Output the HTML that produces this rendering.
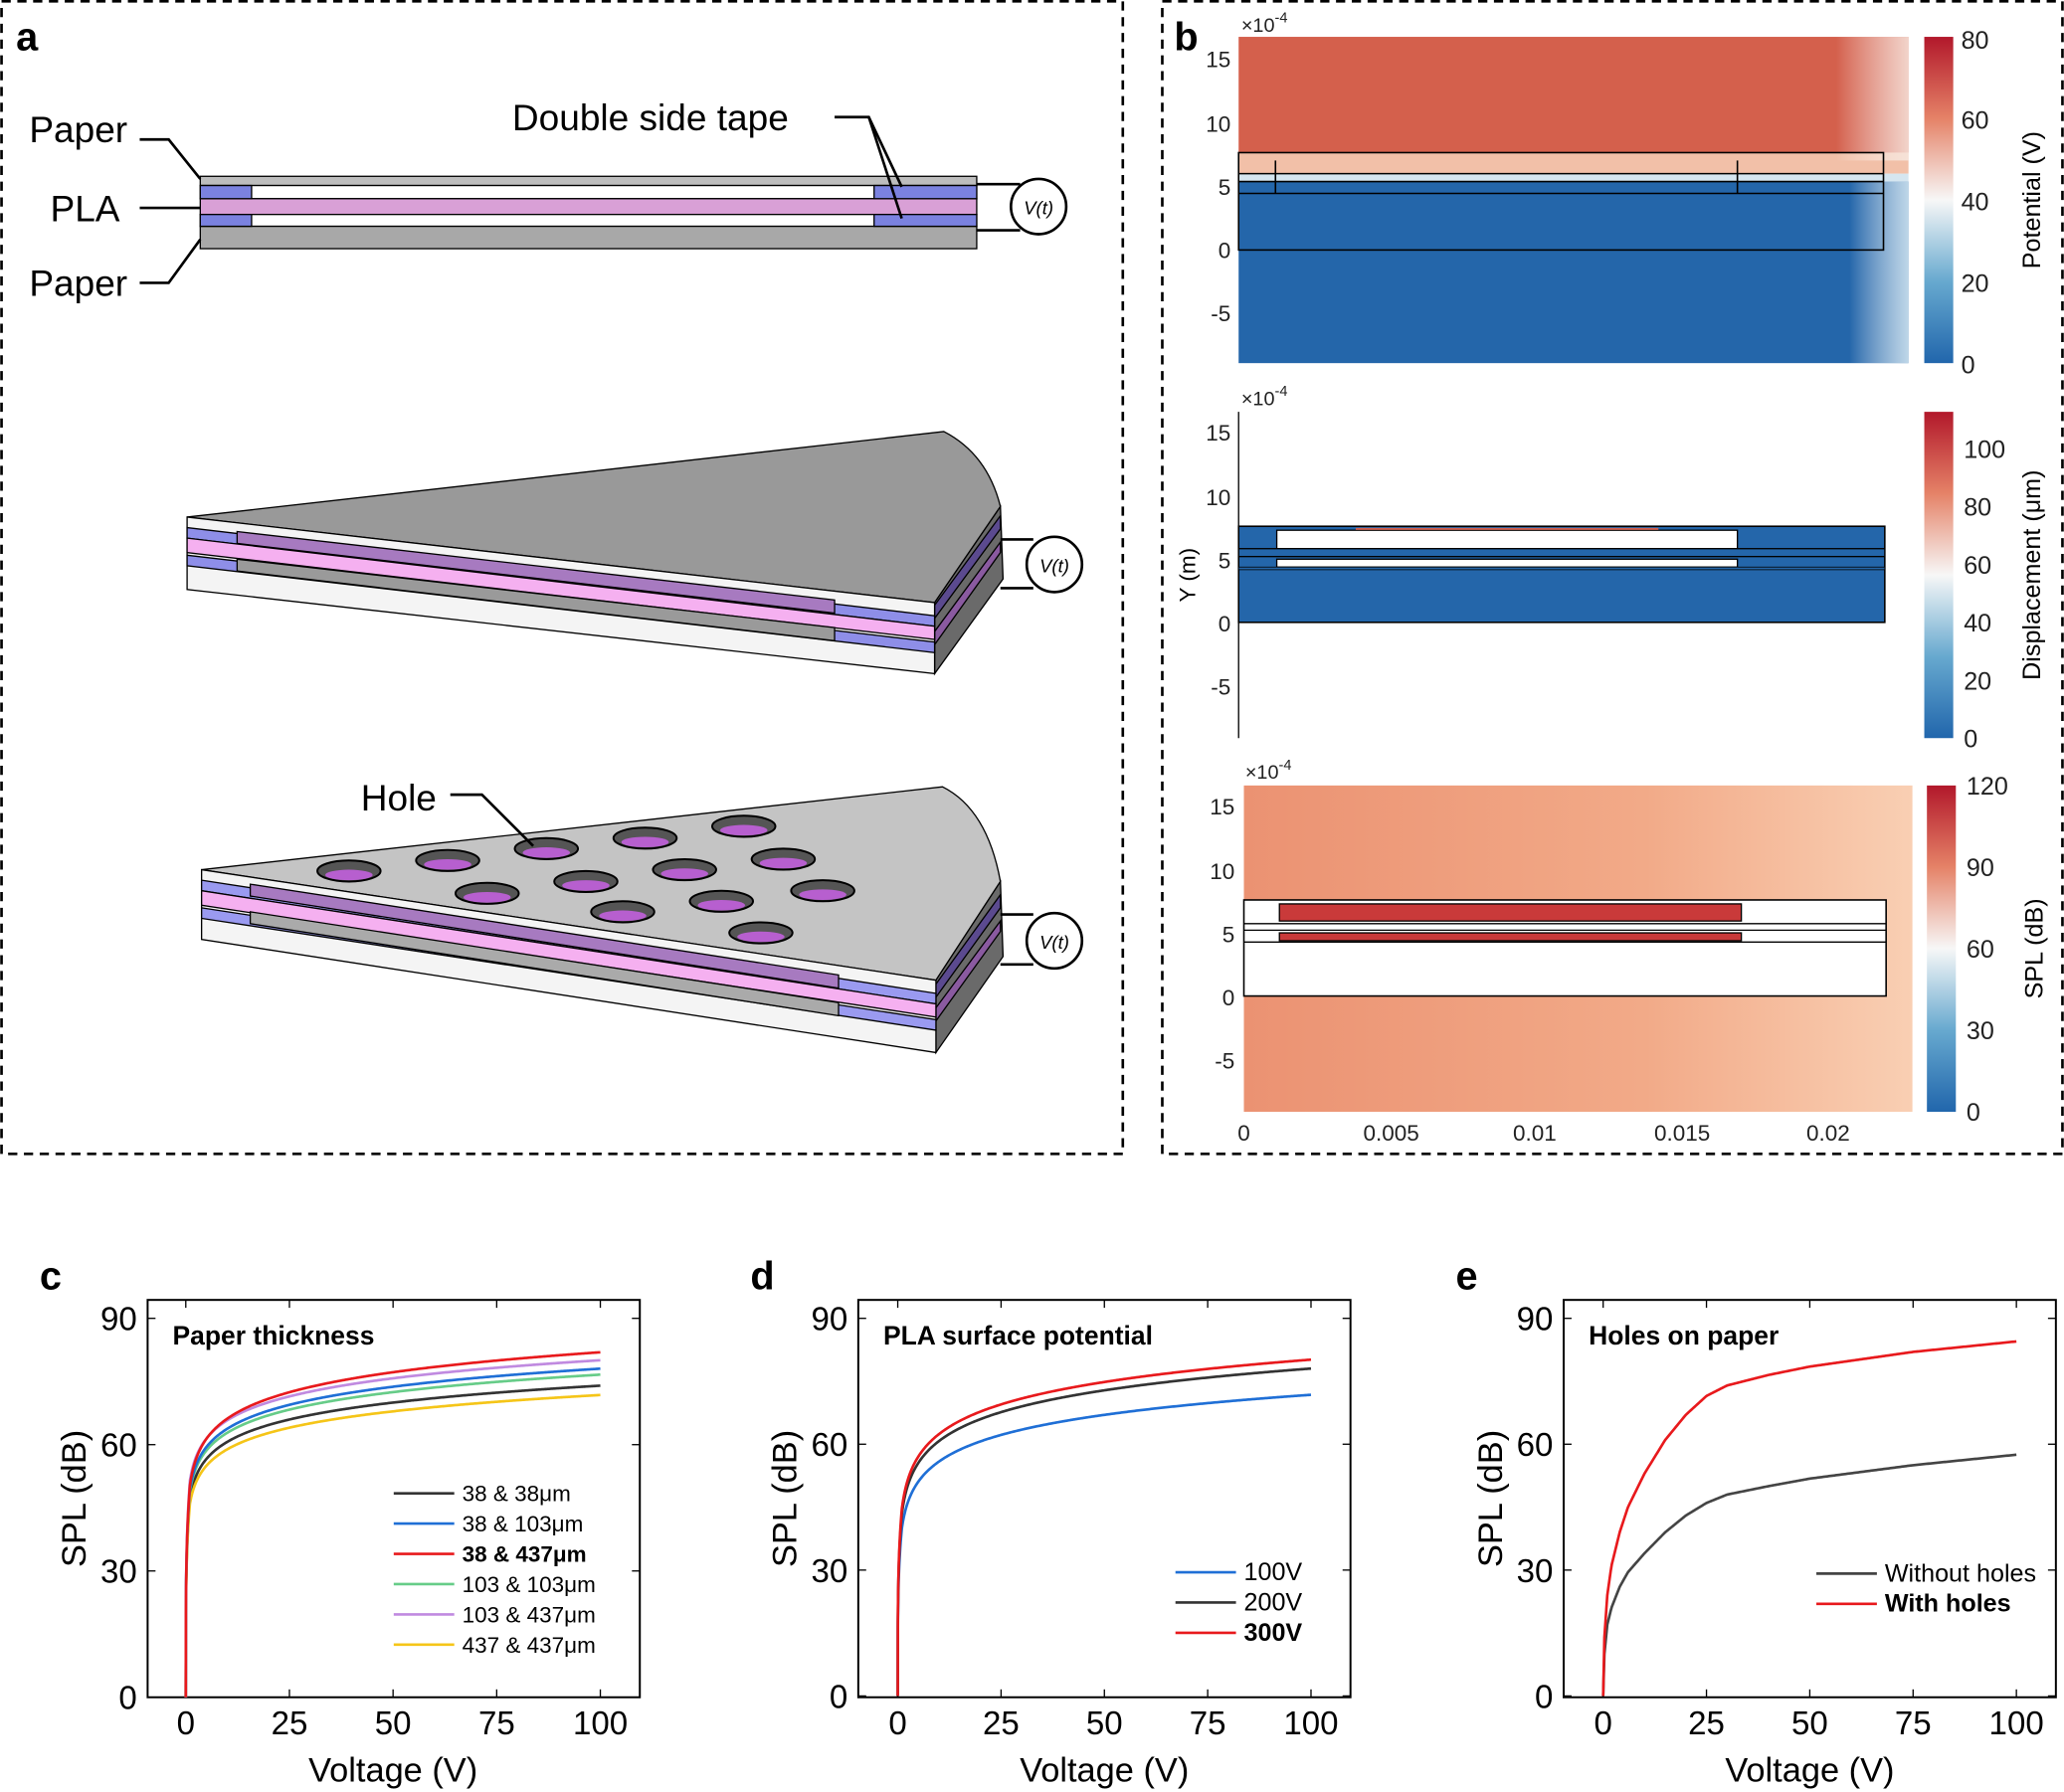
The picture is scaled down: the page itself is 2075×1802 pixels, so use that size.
<!DOCTYPE html>
<html><head><meta charset="utf-8"><style>
html,body{margin:0;padding:0;background:#fff}
svg{display:block}
text{font-family:"Liberation Sans",Arial,sans-serif}
</style></head><body>
<svg id="s" width="2075" height="1802" viewBox="0 0 1568 1362" xmlns="http://www.w3.org/2000/svg">
<defs>
<linearGradient id="cb1" x1="0" y1="0" x2="0" y2="1">
<stop offset="0" stop-color="#b2182b"/><stop offset="0.25" stop-color="#e58267"/><stop offset="0.5" stop-color="#f7f7f7"/><stop offset="0.75" stop-color="#67a9cf"/><stop offset="1" stop-color="#2166ac"/></linearGradient>
<linearGradient id="fadeR" x1="0" y1="0" x2="1" y2="0">
<stop offset="0" stop-color="#ffffff" stop-opacity="0"/><stop offset="1" stop-color="#f7e8e0" stop-opacity="0.85"/></linearGradient>
<linearGradient id="fadeB" x1="0" y1="0" x2="1" y2="0">
<stop offset="0" stop-color="#ffffff" stop-opacity="0"/><stop offset="1" stop-color="#cfe3ef" stop-opacity="0.9"/></linearGradient>
<linearGradient id="spl" x1="0" y1="0" x2="1" y2="0">
<stop offset="0" stop-color="#eb9272"/><stop offset="0.6" stop-color="#f2aa88"/><stop offset="1" stop-color="#f9cfb3"/></linearGradient>
</defs>
<rect width="1568" height="1362" fill="#fff"/>
<!-- panel borders -->
<rect x="1" y="1" width="852" height="876" fill="none" stroke="#000" stroke-width="2" stroke-dasharray="7,5"/>
<rect x="883" y="1" width="684" height="876" fill="none" stroke="#000" stroke-width="2" stroke-dasharray="7,5"/>
<text x="12" y="38" font-size="30" font-weight="bold">a</text>
<text x="892" y="38" font-size="30" font-weight="bold">b</text>

<!-- a: cross-section -->
<g stroke="#000" stroke-width="1">
<rect x="152" y="134" width="590" height="7" fill="#bdbdbd"/>
<rect x="152" y="141" width="590" height="10" fill="#fff"/>
<rect x="152" y="151" width="590" height="12" fill="#d9a0d6"/>
<rect x="152" y="163" width="590" height="9" fill="#fff"/>
<rect x="152" y="172" width="590" height="17" fill="#a8a8a8"/>
<rect x="152" y="141" width="39" height="10" fill="#7b82e0"/>
<rect x="152" y="163" width="39" height="9" fill="#7b82e0"/>
<rect x="664" y="141" width="78" height="10" fill="#7b82e0"/>
<rect x="664" y="163" width="78" height="9" fill="#7b82e0"/>
</g>
<g fill="none" stroke="#000" stroke-width="2">
<polyline points="106,106 128,106 152,136"/>
<line x1="106" y1="158" x2="152" y2="158"/>
<polyline points="106,215 128,215 152,182"/>
<polyline points="634,89 660,89 685,142"/>
<line x1="660" y1="89" x2="685" y2="166"/>
<polyline points="742,140 775,140"/><polyline points="742,175 775,175"/>
</g>
<circle cx="789" cy="157" r="21" fill="#fff" stroke="#000" stroke-width="2"/>
<text x="789" y="163" font-size="14" font-style="italic" text-anchor="middle" font-family="Liberation Serif">V(t)</text>
<text x="22" y="108" font-size="28">Paper</text>
<text x="38" y="168" font-size="28">PLA</text>
<text x="22" y="225" font-size="28">Paper</text>
<text x="389" y="99" font-size="28">Double side tape</text>

<!-- a: wedge 1 -->
<g stroke="#000" stroke-width="1">
<path d="M142,393 L717,328 Q750,345 760,385 L710,458 Z" fill="#999"/>
<path d="M710,458 L760,385 L762,440 L710,512 Z" fill="#6a6a6a"/>
<path d="M710,460 L760,392 L760,402 L710,470 Z" fill="#5b4a8f"/>
<path d="M710,480 L760,412 L760,420 L710,490 Z" fill="#8a5aa0"/>
<path d="M142,393 L710,458 L710,512 L142,448 Z" fill="#f4f4f4"/>
<path d="M142,401 L710,468 L710,476 L142,409 Z" fill="#8e8ee8"/>
<path d="M142,409 L710,476 L710,486 L142,420 Z" fill="#f5b0f0"/>
<path d="M142,422 L710,488 L710,496 L142,430 Z" fill="#8e8ee8"/>
<path d="M180,404 L634,456 L634,466 L180,413 Z" fill="#a77ac0"/>
<path d="M180,425 L634,477 L634,487 L180,434 Z" fill="#9a9a9a"/>
</g>
<g fill="none" stroke="#000" stroke-width="2">
<polyline points="760,410 785,410"/><polyline points="760,447 785,447"/></g>
<circle cx="801" cy="429" r="21" fill="#fff" stroke="#000" stroke-width="2"/>
<text x="801" y="435" font-size="14" font-style="italic" text-anchor="middle" font-family="Liberation Serif">V(t)</text>

<!-- a: wedge 2 with holes -->
<g stroke="#000" stroke-width="1">
<path d="M153,661 L716,598 Q750,615 760,670 L711,745 Z" fill="#c4c4c4"/>
<path d="M711,745 L760,670 L762,727 L711,800 Z" fill="#6a6a6a"/>
<path d="M711,748 L760,680 L760,690 L711,758 Z" fill="#5b4a8f"/>
<path d="M711,766 L760,700 L760,708 L711,776 Z" fill="#8a5aa0"/>
<path d="M153,661 L711,745 L711,800 L153,714 Z" fill="#f4f4f4"/>
<path d="M153,669 L711,755 L711,763 L153,677 Z" fill="#9a9af0"/>
<path d="M153,677 L711,763 L711,773 L153,688 Z" fill="#f5b0f0"/>
<path d="M153,690 L711,775 L711,783 L153,698 Z" fill="#9a9af0"/>
<path d="M190,672 L637,741 L637,751 L190,681 Z" fill="#a77ac0"/>
<path d="M190,693 L637,762 L637,772 L190,702 Z" fill="#aaa"/>
</g>
<g stroke="#000" stroke-width="1.5" fill="#555">
<ellipse cx="265" cy="662" rx="24" ry="8"/><ellipse cx="340" cy="654" rx="24" ry="8"/><ellipse cx="415" cy="645" rx="24" ry="8"/><ellipse cx="490" cy="637" rx="24" ry="8"/><ellipse cx="565" cy="628" rx="24" ry="8"/>
<ellipse cx="370" cy="679" rx="24" ry="8"/><ellipse cx="445" cy="670" rx="24" ry="8"/><ellipse cx="520" cy="661" rx="24" ry="8"/><ellipse cx="595" cy="653" rx="24" ry="8"/>
<ellipse cx="473" cy="693" rx="24" ry="8"/><ellipse cx="548" cy="685" rx="24" ry="8"/><ellipse cx="625" cy="677" rx="24" ry="8"/><ellipse cx="578" cy="709" rx="24" ry="8"/>
</g>
<g fill="#b75fcf">
<ellipse cx="265" cy="665" rx="18" ry="4"/><ellipse cx="340" cy="657" rx="18" ry="4"/><ellipse cx="415" cy="648" rx="18" ry="4"/><ellipse cx="490" cy="640" rx="18" ry="4"/><ellipse cx="565" cy="631" rx="18" ry="4"/>
<ellipse cx="370" cy="682" rx="18" ry="4"/><ellipse cx="445" cy="673" rx="18" ry="4"/><ellipse cx="520" cy="664" rx="18" ry="4"/><ellipse cx="595" cy="656" rx="18" ry="4"/>
<ellipse cx="473" cy="696" rx="18" ry="4"/><ellipse cx="548" cy="688" rx="18" ry="4"/><ellipse cx="625" cy="680" rx="18" ry="4"/><ellipse cx="578" cy="712" rx="18" ry="4"/>
</g>
<g fill="none" stroke="#000" stroke-width="2">
<polyline points="342,604 366,604 405,643"/>
<polyline points="760,695 785,695"/><polyline points="760,733 785,733"/></g>
<text x="274" y="616" font-size="28">Hole</text>
<circle cx="801" cy="715" r="21" fill="#fff" stroke="#000" stroke-width="2"/>
<text x="801" y="721" font-size="14" font-style="italic" text-anchor="middle" font-family="Liberation Serif">V(t)</text>

<!-- b1 -->
<rect x="941" y="28" width="509" height="88" fill="#d4604c"/>
<rect x="941" y="116" width="509" height="16" fill="#f2c0a8"/>
<rect x="941" y="132" width="509" height="6" fill="#d6e6f0"/>
<rect x="941" y="138" width="509" height="138" fill="#2466aa"/>
<rect x="1395" y="28" width="55" height="94" fill="url(#fadeR)"/>
<rect x="1405" y="138" width="45" height="138" fill="url(#fadeB)"/>
<g fill="none" stroke="#000" stroke-width="1.2">
<rect x="941" y="116" width="490" height="74"/>
<line x1="941" y1="132" x2="1431" y2="132"/><line x1="941" y1="138" x2="1431" y2="138"/><line x1="941" y1="147" x2="1431" y2="147"/>
<line x1="969" y1="122" x2="969" y2="147"/><line x1="1320" y1="122" x2="1320" y2="147"/>
</g>
<rect x="1462" y="28" width="22" height="248" fill="url(#cb1)"/>
<!-- b2 -->
<line x1="941" y1="313" x2="941" y2="561" stroke="#000" stroke-width="1"/>
<rect x="941" y="400" width="491" height="73" fill="#2466aa" stroke="#000" stroke-width="1.2"/>
<rect x="970" y="403" width="350" height="14" fill="#fff" stroke="#000"/>
<rect x="941" y="417" width="491" height="6" fill="#2466aa" stroke="#000"/>
<rect x="970" y="425" width="350" height="6" fill="#fff" stroke="#000"/>
<rect x="941" y="431" width="491" height="2" fill="#2466aa" stroke="#000" stroke-width="0.6"/>
<line x1="1030" y1="402" x2="1260" y2="402" stroke="#d06050" stroke-width="1.5"/>
<rect x="1462" y="313" width="22" height="248" fill="url(#cb1)"/>
<!-- b3 -->
<rect x="945" y="597" width="508" height="248" fill="url(#spl)"/>
<rect x="945" y="684" width="488" height="73" fill="#fff" stroke="#000" stroke-width="1.2"/>
<rect x="972" y="687" width="351" height="13" fill="#c93a3a" stroke="#000"/>
<line x1="945" y1="702" x2="1433" y2="702" stroke="#000"/><line x1="945" y1="707" x2="1433" y2="707" stroke="#000"/>
<rect x="972" y="709" width="351" height="6" fill="#c93a3a" stroke="#000"/>
<line x1="945" y1="716" x2="1433" y2="716" stroke="#000"/>
<rect x="1464" y="597" width="22" height="248" fill="url(#cb1)"/>
<g font-size="17" text-anchor="end" fill="#222">
<text x="935" y="51">15</text><text x="935" y="100">10</text><text x="935" y="148">5</text><text x="935" y="196">0</text><text x="935" y="244">-5</text>
<text x="935" y="335">15</text><text x="935" y="384">10</text><text x="935" y="432">5</text><text x="935" y="480">0</text><text x="935" y="528">-5</text>
<text x="938" y="619">15</text><text x="938" y="668">10</text><text x="938" y="716">5</text><text x="938" y="764">0</text><text x="938" y="812">-5</text>
</g>
<g font-size="15" fill="#222"><text x="943" y="24">×10<tspan dy="-7" font-size="11">-4</tspan></text>
<text x="943" y="308">×10<tspan dy="-7" font-size="11">-4</tspan></text>
<text x="946" y="592">×10<tspan dy="-7" font-size="11">-4</tspan></text></g>
<g font-size="17" text-anchor="middle" fill="#222"><text x="945" y="867">0</text><text x="1057" y="867">0.005</text><text x="1166" y="867">0.01</text><text x="1278" y="867">0.015</text><text x="1389" y="867">0.02</text></g>
<text transform="translate(908,437) rotate(-90)" font-size="17" text-anchor="middle">Y (m)</text>
<g font-size="19" fill="#222">
<text x="1490" y="37">80</text><text x="1490" y="98">60</text><text x="1490" y="160">40</text><text x="1490" y="222">20</text><text x="1490" y="284">0</text>
<text x="1492" y="348">100</text><text x="1492" y="392">80</text><text x="1492" y="436">60</text><text x="1492" y="480">40</text><text x="1492" y="524">20</text><text x="1492" y="568">0</text>
<text x="1494" y="604">120</text><text x="1494" y="666">90</text><text x="1494" y="728">60</text><text x="1494" y="790">30</text><text x="1494" y="852">0</text>
</g>
<g font-size="19" text-anchor="middle">
<text transform="translate(1550,152) rotate(-90)">Potential (V)</text>
<text transform="translate(1550,437) rotate(-90)">Displacement (μm)</text>
<text transform="translate(1552,721) rotate(-90)">SPL (dB)</text></g>

<!-- charts -->
<g id="charts"></g>
</svg>
<script>
var NS="http://www.w3.org/2000/svg",G=document.getElementById("charts");
function el(t,a,txt){var e=document.createElementNS(NS,t);for(var k in a)e.setAttribute(k,a[k]);if(txt!==undefined)e.textContent=txt;G.appendChild(e);return e;}
function chart(bx,x0,x1,y0,y90,letter,title){
 el("rect",{x:bx,y:988,width:374,height:302,fill:"none",stroke:"#000","stroke-width":1.5});
 el("text",{x:bx-82,y:980,"font-size":30,"font-weight":"bold"},letter);
 el("text",{x:bx+19,y:1022,"font-size":20,"font-weight":"bold"},title);
 [0,25,50,75,100].forEach(function(v){var x=x0+(x1-x0)*v/100;
  el("line",{x1:x,y1:1290,x2:x,y2:1284,stroke:"#000"});el("line",{x1:x,y1:988,x2:x,y2:994,stroke:"#000"});
  el("text",{x:x,y:1318,"font-size":25,"text-anchor":"middle"},v);});
 [0,30,60,90].forEach(function(v){var y=y0+(y90-y0)*v/90;
  el("line",{x1:bx,y1:y,x2:bx+6,y2:y,stroke:"#000"});el("line",{x1:bx+374,y1:y,x2:bx+368,y2:y,stroke:"#000"});
  el("text",{x:bx-8,y:y+9,"font-size":25,"text-anchor":"end"},v);});
 el("text",{x:(x0+x1)/2,y:1354,"font-size":26,"text-anchor":"middle"},"Voltage (V)");
 el("text",{transform:"translate("+(bx-47)+",1139) rotate(-90)","font-size":26,"text-anchor":"middle"},"SPL (dB)");
 return function(f,col){var d="";for(var i=0;i<=400;i++){var v=i<40?i*0.025:(i-39)*100/361;if(i>=40)v=1+(i-40)*99/360;var s=f(v);
  var x=x0+(x1-x0)*v/100,y=y0+(y90-y0)*s/90;d+=(i?"L":"M")+x.toFixed(2)+","+y.toFixed(2);}
  el("path",{d:d,fill:"none",stroke:col,"stroke-width":2});};
}
function lg(A,B){return function(v){var r=A+B*Math.log(Math.max(v,1e-3));if(v<1){var t=A+B*Math.log(1)-0;var base=Math.pow(v,0.25)*A;return Math.min(base,A)+0;}return r;};}
var c=chart(112,141,456,1290,1002,"c","Paper thickness");
c(lg(47.3,5.8),"#333");c(lg(49.0,6.0),"#66cc88");c(lg(46.0,5.6),"#f5c518");c(lg(49.5,6.2),"#1f6fd6");c(lg(51.5,6.2),"#c08ae0");c(lg(50.4,6.85),"#e8191c");
var d=chart(652,682,996,1289,1002,"d","PLA surface potential");
d(lg(40,6.9),"#1f6fd6");d(lg(43.5,7.5),"#333");d(lg(44.7,7.7),"#e8191c");
var e=chart(1188,1218,1532,1289,1002,"e","Holes on paper");
function pw(pts){return function(v){for(var i=1;i<pts.length;i++){if(v<=pts[i][0]){var a=pts[i-1],b=pts[i],t=(v-a[0])/(b[0]-a[0]);return a[1]+(b[1]-a[1])*t;}}return pts[pts.length-1][1];};}
e(pw([[0,0],[0.3,10],[1,17],[2,21],[4,26],[6,29.5],[10,34],[15,39],[20,43],[25,46],[30,48],[40,50],[50,51.8],[75,55],[100,57.5]]),"#444");
e(pw([[0,0],[0.3,14],[1,24],[2,31],[4,39],[6,45],[10,53],[15,61],[20,67],[25,71.5],[30,74],[40,76.5],[50,78.5],[75,82],[100,84.5]]),"#e8191c");
// legends
function leg(x,y,items,fs){items.forEach(function(it,i){var yy=y+i*23;el("line",{x1:x,y1:yy,x2:x+46,y2:yy,stroke:it[1],"stroke-width":2});
 el("text",{x:x+52,y:yy+6,"font-size":fs,"font-weight":it[2]?"bold":"normal"},it[0]);});}
leg(299,1135,[["38 & 38μm","#333"],["38 & 103μm","#1f6fd6"],["38 & 437μm","#e8191c",1],["103 & 103μm","#66cc88"],["103 & 437μm","#c08ae0"],["437 & 437μm","#f5c518"]],17);
leg(893,1195,[["100V","#1f6fd6"],["200V","#333"],["300V","#e8191c",1]],19);
leg(1380,1196,[["Without holes","#444"],["With holes","#e8191c",1]],19);
</script>
</body></html>
